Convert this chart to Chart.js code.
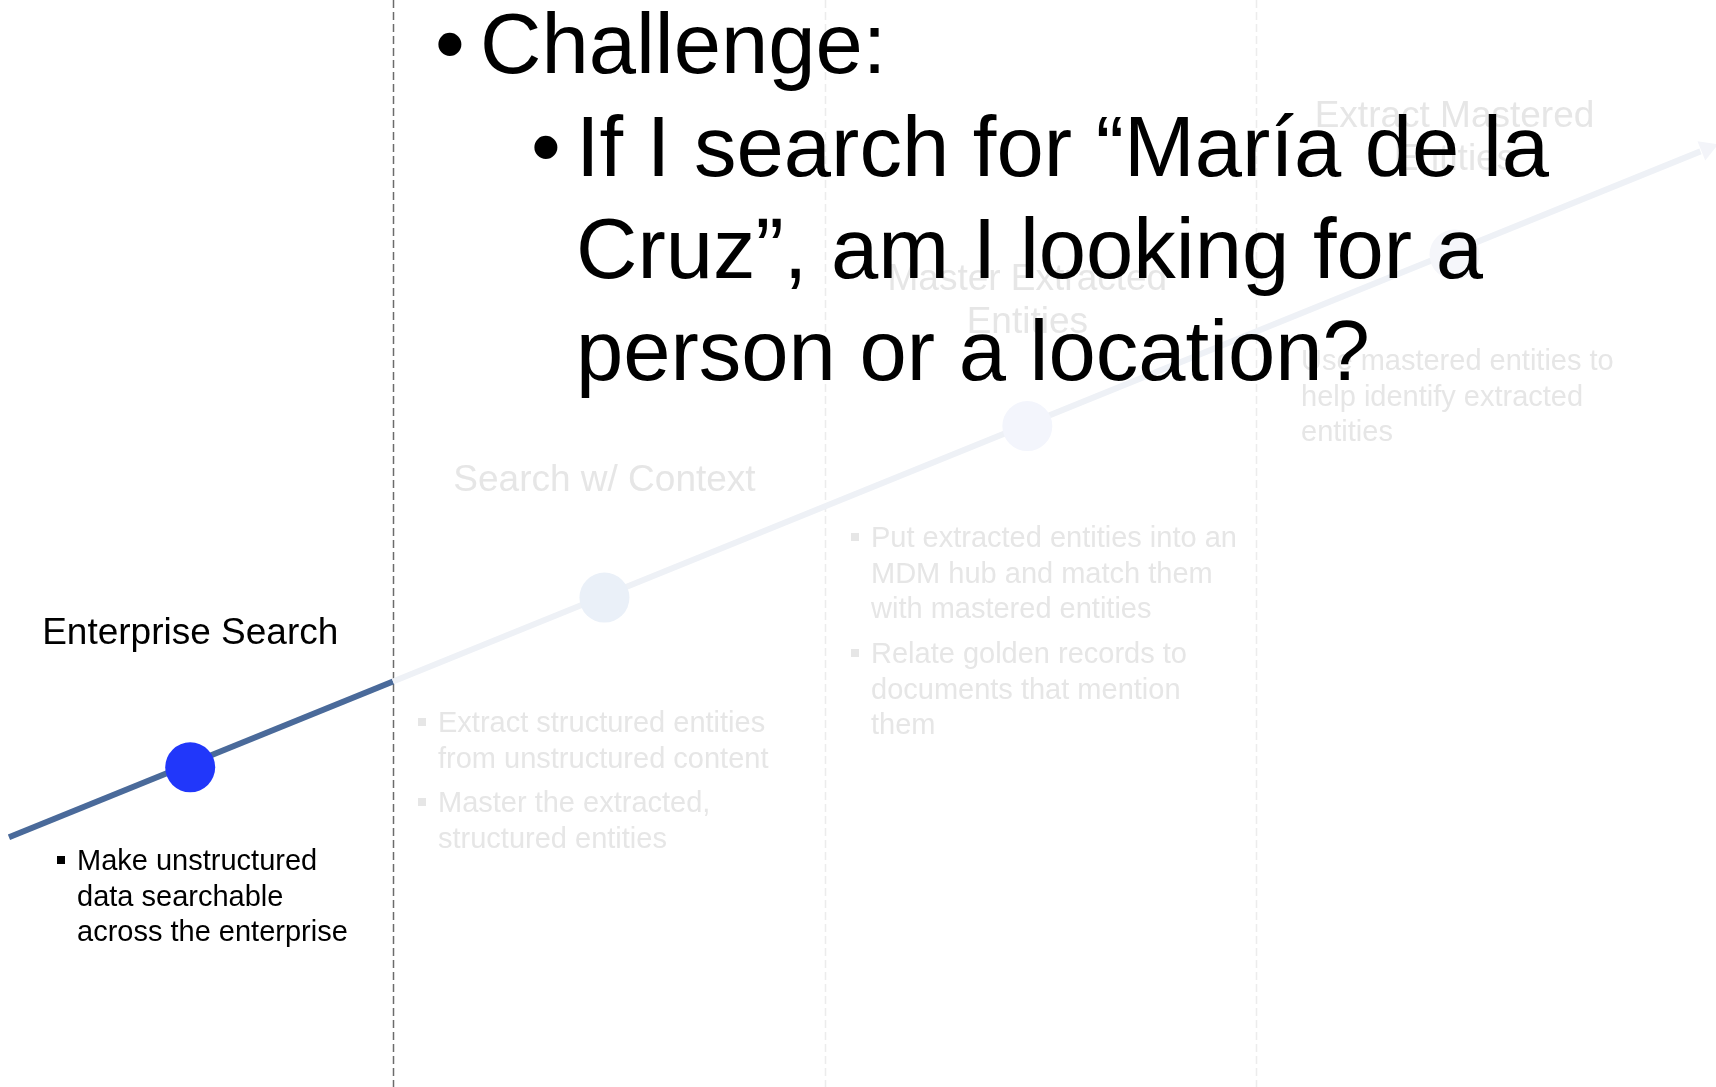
<!DOCTYPE html>
<html>
<head>
<meta charset="utf-8">
<script src="https://cdn.jsdelivr.net/npm/chart.js@4/dist/chart.umd.min.js"></script>
<style>
html, body { margin: 0; padding: 0; background: #fff; }
#wrap { width: 1716px; height: 1087px; }
</style>
</head>
<body>
<div id="wrap"><canvas id="roadmap" width="1716" height="1087"></canvas></div>
<script>
// stages of the roadmap
var stages = ['Enterprise Search', 'Search w/ Context', 'Master Extracted Entities', 'Extract Mastered Entities'];
var stageX = [0.53, 1.49, 2.47, 3.46];
var stageY = [0.51, 1.48, 2.46, 3.44];
var dividers = [1, 2, 3];
var trendX = [0.11, 1, 4.03];
var trendY = [0.11, 1, 4.03];
var arrowX = [4.045];
var arrowY = [4.045];

var titleLines = [['Enterprise Search'], ['Search w/ Context'], ['Master Extracted', 'Entities'], ['Extract Mastered', 'Entities']];
var stageBullets = [
    [['Make unstructured', 'data searchable', 'across the enterprise']],
    [['Extract structured entities', 'from unstructured content'], ['Master the extracted,', 'structured entities']],
    [['Put extracted entities into an', 'MDM hub and match them', 'with mastered entities'], ['Relate golden records to', 'documents that mention', 'them']],
    [['Use mastered entities to', 'help identify extracted', 'entities']]
];
var challenge = 'Challenge:';
var question = ['If I search for \u201cMar\u00eda de la', 'Cruz\u201d, am I looking for a', 'person or a location?'];

var activeStage = 0;

// layout (pixels)
var titleBase = [[644], [491], [290, 333], [127, 170]];
var bulletLeft = [77, 438, 871, 1301];
var bulletBase = [[870], [732, 812], [547, 663], [370]];
var bulletLine = 35.7;

var DARK = '#4a6a9a';
var FAINT_LINE = '#eef1f6';
var FAINT_TEXT = '#e6e6e6';
var FONT = '"Liberation Sans", Arial, Helvetica, sans-serif';

var pointColors = ['#2137fa', '#eaf0f8', '#f3f5fc', '#f5f6fa'];

var roadmapText = {
    id: 'roadmapText',
    beforeDatasetsDraw: function (chart) {
        var ctx = chart.ctx, xs = chart.scales.x, area = chart.chartArea;
        ctx.save();
        ctx.lineWidth = 1.5;
        ctx.setLineDash([8, 4]);
        dividers.forEach(function (d, i) {
            var px = Math.round(xs.getPixelForValue(d)) + 0.5;
            ctx.strokeStyle = i === activeStage ? '#6b6b6b' : '#ececec';
            ctx.beginPath();
            ctx.moveTo(px, area.top);
            ctx.lineTo(px, area.bottom);
            ctx.stroke();
        });
        ctx.restore();
    },
    afterDraw: function (chart) {
        var ctx = chart.ctx, xs = chart.scales.x;
        ctx.save();
        ctx.textBaseline = 'alphabetic';

        // faint stages first, the active one last
        var order = [1, 2, 3, 0];
        order.forEach(function (s) {
            var col = s === activeStage ? '#000' : FAINT_TEXT;
            ctx.fillStyle = col;
            ctx.font = '37px ' + FONT;
            ctx.textAlign = 'center';
            var cx = xs.getPixelForValue(stageX[s]);
            titleLines[s].forEach(function (t, k) {
                ctx.fillText(t, cx, titleBase[s][k]);
            });
            ctx.font = '29px ' + FONT;
            ctx.textAlign = 'left';
            stageBullets[s].forEach(function (para, p) {
                var y0 = bulletBase[s][p];
                ctx.fillRect(bulletLeft[s] - 20, y0 - 14, 8, 8);
                para.forEach(function (line, k) {
                    ctx.fillText(line, bulletLeft[s], y0 + k * bulletLine);
                });
            });
        });

        // overlay text of the slide
        ctx.fillStyle = '#000';
        ctx.textAlign = 'left';
        ctx.font = '85px ' + FONT;
        ctx.fillText('\u2022', 435, 73);
        ctx.fillText(challenge, 480, 73);
        ctx.fillText('\u2022', 531, 176);
        question.forEach(function (line, k) {
            ctx.fillText(line, 576, 176 + k * 102);
        });
        ctx.restore();
    }
};

new Chart('roadmap', {
    type: 'scatter',
    data: {
        datasets: [{
            label: 'stages',
            order: 0,
            data: stageX.map(function (x, i) { return { x: x, y: stageY[i] }; }),
            pointRadius: 25,
            pointHoverRadius: 25,
            pointBorderWidth: 0,
            pointBackgroundColor: pointColors,
            showLine: false
        }, {
            label: 'arrow',
            order: 1,
            data: arrowX.map(function (x, i) { return { x: x, y: arrowY[i] }; }),
            pointStyle: 'triangle',
            pointRotation: 68,
            pointRadius: 12,
            pointBorderWidth: 0,
            pointBackgroundColor: '#f3f4f9',
            showLine: false
        }, {
            label: 'trend',
            order: 2,
            data: trendX.map(function (x, i) { return { x: x, y: trendY[i] }; }),
            showLine: true,
            borderWidth: 6,
            borderCapStyle: 'butt',
            pointRadius: 0,
            segment: {
                borderColor: function (c) { return c.p0.parsed.x < 1 ? DARK : FAINT_LINE; }
            }
        }]
    },
    options: {
        responsive: false,
        animation: false,
        events: [],
        layout: { padding: 0, autoPadding: false },
        plugins: { legend: { display: false }, tooltip: { enabled: false } },
        scales: {
            x: { type: 'linear', display: false, min: 0.0892, max: 4.066 },
            y: { type: 'linear', display: false, min: -1.317, max: 4.895 }
        }
    },
    plugins: [roadmapText]
});
</script>
</body>
</html>
